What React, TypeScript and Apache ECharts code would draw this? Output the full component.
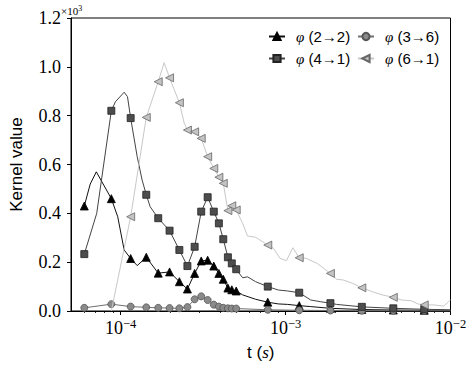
import React, { useEffect, useRef } from "react";
import * as echarts from "echarts";

// time grid (s) and kernel values for each series; m* flags mark points that carry a marker
const t22 = [6.02e-5, 6.54e-5, 7.12e-5, 8.78e-5, 9.6e-5, 1.05e-4, 1.15e-4, 1.26e-4, 1.43e-4, 1.69e-4, 1.98e-4, 2.27e-4, 2.54e-4, 2.81e-4, 3.08e-4, 3.37e-4, 3.67e-4, 3.94e-4, 4.19e-4, 4.47e-4, 4.72e-4, 5.02e-4, 5.49e-4, 6.58e-4, 7.8e-4, 9.03e-4, 1.03e-3, 1.21e-3, 1.42e-3, 1.87e-3, 2.9e-3, 4.5e-3, 6.93e-3, 1.0e-2];
const v22 = [430, 520, 570, 460, 386, 250, 215, 186, 220, 155, 160, 120, 90, 154, 205, 208, 184, 154, 130, 94, 87, 82, 66, 48, 36, 29, 27, 22, 18, 11, 6, 4, 3, 2];
const m22 = [1, 0, 0, 1, 0, 0, 1, 0, 1, 1, 1, 1, 1, 1, 1, 1, 1, 1, 1, 1, 1, 1, 0, 0, 1, 0, 0, 1, 0, 1, 1, 1, 1, 0];

const t36 = [6.02e-5, 8.78e-5, 1.15e-4, 1.43e-4, 1.69e-4, 1.98e-4, 2.27e-4, 2.54e-4, 2.81e-4, 3.08e-4, 3.37e-4, 3.67e-4, 3.94e-4, 4.19e-4, 4.47e-4, 4.72e-4, 5.02e-4, 7.8e-4, 1.21e-3, 1.87e-3, 2.9e-3, 4.5e-3, 6.93e-3, 1.0e-2];
const v36 = [13, 28, 18, 15, 13, 12, 11, 16, 48, 60, 45, 26, 18, 13, 11, 10, 10, 5, 3, 2, 1, 1, 1, 1];
const m36 = [1, 1, 1, 1, 1, 1, 1, 1, 1, 1, 1, 1, 1, 1, 1, 1, 1, 1, 1, 1, 1, 1, 1, 0];

const t41 = [6.02e-5, 7.16e-5, 8.78e-5, 9.3e-5, 1.05e-4, 1.1e-4, 1.15e-4, 1.26e-4, 1.35e-4, 1.43e-4, 1.51e-4, 1.69e-4, 1.98e-4, 2.27e-4, 2.54e-4, 2.81e-4, 3.08e-4, 3.37e-4, 3.67e-4, 3.94e-4, 4.19e-4, 4.47e-4, 4.72e-4, 5.02e-4, 5.49e-4, 5.88e-4, 6.58e-4, 7.8e-4, 9.03e-4, 1.03e-3, 1.21e-3, 1.42e-3, 1.63e-3, 1.87e-3, 2.04e-3, 2.9e-3, 4.5e-3, 6.93e-3, 1.0e-2];
const v41 = [233, 400, 820, 857, 896, 878, 790, 632, 536, 476, 427, 380, 329, 250, 184, 263, 407, 466, 407, 359, 294, 220, 195, 171, 136, 140, 120, 100, 86, 82, 75, 45, 38, 32, 27, 17, 11, 7, 5];
const m41 = [1, 0, 1, 0, 0, 0, 1, 0, 0, 1, 0, 1, 1, 1, 1, 1, 1, 1, 1, 1, 1, 1, 1, 1, 0, 0, 0, 1, 0, 0, 1, 0, 0, 1, 0, 1, 1, 1, 0];

const t61 = [8.78e-5, 1.15e-4, 1.43e-4, 1.69e-4, 1.835e-4, 1.98e-4, 2.27e-4, 2.43e-4, 2.54e-4, 2.81e-4, 3.08e-4, 3.37e-4, 3.67e-4, 3.94e-4, 4.19e-4, 4.47e-4, 4.72e-4, 5.02e-4, 5.49e-4, 5.88e-4, 6.58e-4, 7.8e-4, 8.44e-4, 9.24e-4, 1.012e-3, 1.107e-3, 1.21e-3, 1.33e-3, 1.555e-3, 1.87e-3, 2.04e-3, 2.235e-3, 2.56e-3, 2.9e-3, 3.36e-3, 3.85e-3, 4.5e-3, 5.05e-3, 5.78e-3, 6.34e-3, 6.93e-3, 7.94e-3, 9.09e-3, 9.73e-3, 1.0e-2];
const v61 = [0, 386, 793, 939, 1017, 955, 853, 769, 741, 734, 707, 632, 584, 548, 523, 411, 431, 414, 359, 307, 302, 270, 257, 216, 206, 259, 218, 216, 195, 154, 130, 127, 113, 95, 79, 66, 56, 45, 42, 29, 25, 25, 20, 38, 45];
const m61 = [0, 1, 1, 1, 0, 1, 1, 0, 1, 1, 1, 1, 1, 1, 1, 1, 1, 1, 0, 0, 0, 1, 0, 0, 0, 0, 1, 0, 0, 1, 0, 0, 0, 1, 0, 0, 1, 0, 0, 0, 1, 0, 0, 0, 0];

const names = ["φ (2→2)", "φ (3→6)", "φ (4→1)", "φ (6→1)"];
const majorTicks = [1e-4, 1e-3, 1e-2];
const minorTicks = [6e-5, 7e-5, 8e-5, 9e-5, 2e-4, 3e-4, 4e-4, 5e-4, 6e-4, 7e-4, 8e-4, 9e-4, 2e-3, 3e-3, 4e-3, 5e-3, 6e-3, 7e-3, 8e-3, 9e-3];

const SERIF = "Liberation Serif";
const SANS = "Liberation Sans";

function makeSeries(name: string, t: number[], v: number[], m: number[], sty: any) {
  return {
    type: "line",
    name,
    clip: false,
    showSymbol: true,
    symbol: sty.symbol,
    symbolSize: sty.size,
    symbolRotate: sty.rotate || 0,
    lineStyle: { color: sty.line, width: 1 },
    itemStyle: { color: sty.fill, borderColor: sty.edge, borderWidth: 0.8 },
    emphasis: { disabled: true },
    z: sty.z,
    data: t.map((x, i) => ({ value: [x, v[i]], symbol: m[i] ? sty.symbol : "none" })),
  };
}

function legendAt(name: string, left: number, top: number) {
  return {
    data: [name],
    left,
    top,
    padding: 0,
    itemWidth: 16,
    itemHeight: 9,
    selectedMode: false,
    formatter: (n: string) => n.replace("φ", "{phi|φ}"),
    textStyle: {
      fontFamily: SANS,
      fontSize: 15,
      color: "#000",
      rich: {
        phi: { fontFamily: SERIF, fontStyle: "italic", fontSize: 15, color: "#000", padding: [0, 0, 0, 6] },
      },
    },
  };
}

export default function App() {
  const ref = useRef<HTMLDivElement>(null);
  useEffect(() => {
    if (!ref.current) return;
    const chart = echarts.init(ref.current, undefined, { renderer: "svg" });
    const expLabel = (val: number) => {
      const e = Math.round(Math.log10(val));
      return `{b|10}{s|${e < 0 ? "−" + -e : e}}`;
    };
    chart.setOption({
      animation: false,
      backgroundColor: "#fff",
      grid: { left: 60, right: 23.5, top: 18, bottom: 56, show: true, borderColor: "#000", borderWidth: 1, backgroundColor: "transparent" },
      legend: [
        legendAt(names[0], 268, 29),
        legendAt(names[1], 357, 29),
        legendAt(names[2], 268, 51),
        legendAt(names[3], 357, 51),
      ],
      graphic: [
        {
          type: "text",
          left: 61,
          top: 4,
          style: {
            text: "×10{sup|3}",
            fontFamily: SERIF,
            fontSize: 11,
            fill: "#000",
            rich: { sup: { fontFamily: SERIF, fontSize: 8, padding: [0, 0, 6, 0] } },
          },
        },
      ],
      xAxis: [
        {
          type: "log",
          logBase: 10,
          min: 5e-5,
          max: 1e-2,
          axisLine: { show: true, lineStyle: { color: "#000", width: 1 } },
          axisTick: { show: true, length: 4, customValues: majorTicks, lineStyle: { color: "#000", width: 1 } },
          axisLabel: {
            customValues: majorTicks,
            margin: 6,
            formatter: expLabel,
            rich: {
              b: { fontFamily: SERIF, fontSize: 18, color: "#000" },
              s: { fontFamily: SERIF, fontSize: 12.5, color: "#000", padding: [0, 0, 9, 0] },
            },
          },
          splitLine: { show: false },
          minorTick: { show: false },
          name: "{a|t (}{b|s}{a|)}",
          nameLocation: "middle",
          nameGap: 33,
          nameTextStyle: {
            rich: {
              a: { fontFamily: SANS, fontSize: 17, color: "#000" },
              b: { fontFamily: SERIF, fontStyle: "italic", fontSize: 17, color: "#000" },
            },
          },
        },
        {
          type: "log",
          logBase: 10,
          min: 5e-5,
          max: 1e-2,
          position: "bottom",
          offset: 0,
          axisLine: { show: false },
          axisTick: { show: true, length: 2, customValues: minorTicks, lineStyle: { color: "#000", width: 0.8 } },
          axisLabel: { show: false },
          splitLine: { show: false },
        },
      ],
      yAxis: {
        type: "value",
        min: 0,
        max: 1200,
        interval: 200,
        axisLine: { show: true, lineStyle: { color: "#000", width: 1 } },
        axisTick: { show: true, length: 4, lineStyle: { color: "#000" } },
        axisLabel: {
          margin: 10,
          fontFamily: SERIF,
          fontSize: 18,
          color: "#000",
          formatter: (v: number) => (v / 1000).toFixed(1),
        },
        splitLine: { show: false },
        name: "Kernel value",
        nameLocation: "middle",
        nameGap: 46,
        nameTextStyle: { fontFamily: SANS, fontSize: 17, color: "#000" },
      },
      series: [
        makeSeries(names[0], t22, v22, m22, { symbol: "triangle", size: 8, line: "#111", fill: "#000", edge: "#000", z: 2 }),
        makeSeries(names[1], t36, v36, m36, { symbol: "circle", size: 7, line: "#707070", fill: "#8a8a8a", edge: "#555", z: 3 }),
        makeSeries(names[2], t41, v41, m41, { symbol: "rect", size: 7, line: "#444", fill: "#4d4d4d", edge: "#222", z: 4 }),
        makeSeries(names[3], t61, v61, m61, { symbol: "triangle", size: 8, rotate: 90, line: "#c8c8c8", fill: "#c4c4c4", edge: "#666", z: 5 }),
      ],
    });
    return () => chart.dispose();
  }, []);
  return <div ref={ref} style={{ width: 474, height: 367, position: "absolute", left: 0, top: 0 }} />;
}
